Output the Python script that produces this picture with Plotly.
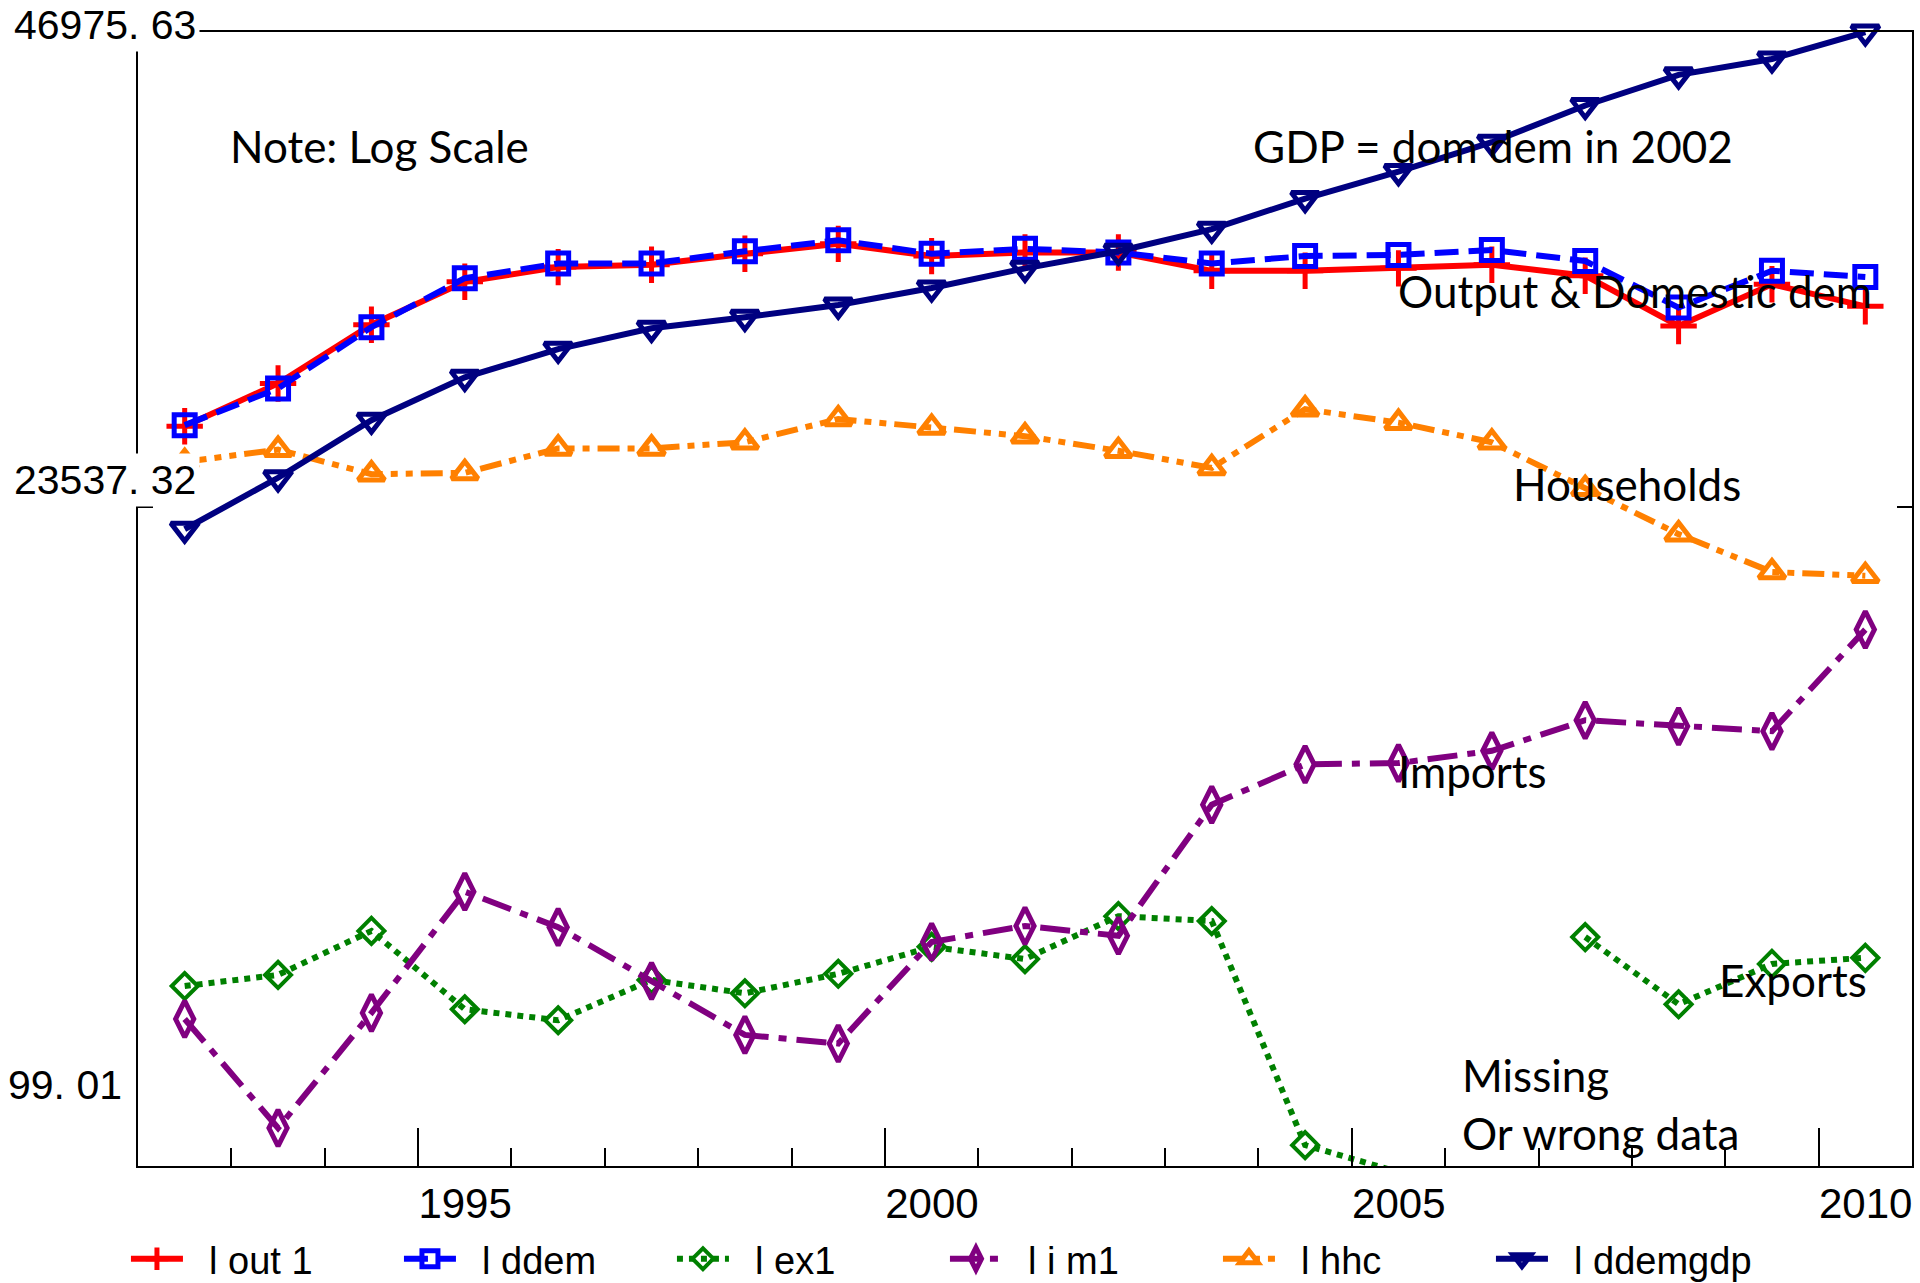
import plotly.graph_objects as go

# Annual observations, plotted at mid-year
years = list(range(1992, 2011))

# Series levels in chart index units (log-scale display)
lout1 = [65.23, 69.01, 74.19, 77.97, 79.27, 79.48, 80.45, 81.32, 80.24, 80.56,
         80.56, 78.94, 78.94, 79.16, 79.48, 78.51, 74.08, 77.75, 75.81]
lddem = [65.33, 68.57, 73.97, 78.29, 79.59, 79.59, 80.67, 81.64, 80.45, 80.88,
         80.56, 79.59, 80.24, 80.34, 80.78, 79.81, 75.70, 78.94, 78.40]
lex1 = [15.87, 16.85, 20.73, 13.82, 12.85, 16.41, 15.23, 16.95, 19.33, 18.25,
        22.03, 21.60, 1.84, -0.54, None, 20.19, 14.26, 17.82, 18.36]
lim1 = [12.96, 3.35, 13.50, 24.19, 21.06, 16.31, 11.56, 10.80, 19.76, 21.17,
        20.30, 31.86, 35.42, 35.53, 36.61, 39.31, 38.77, 38.34, 47.30]
lhhc = [62.10, 63.17, 61.01, 61.12, 63.28, 63.28, 63.82, 65.87, 65.12, 64.36,
        63.07, 61.56, 66.74, 65.55, 63.82, 59.72, 55.72, 52.38, 52.05]
lddemgdp = [56.16, 60.69, 65.77, 69.55, 72.03, 73.87, 74.84, 75.92, 77.43, 79.16,
            80.67, 82.61, 85.31, 87.69, 90.28, 93.52, 96.22, 97.62, 100.0]

major_years = [1995, 2000, 2005, 2010]
y_tick_text = ["46975. 63", "23537. 32", "99. 01"]
y_tick_label_pos = [1.0062, 0.605, 0.0714]   # fraction of plot height
y_tick_marks = [58.11]

# Text notes placed on the chart
note_text = ["Note: Log Scale", "GDP = dom dem in 2002", "Output & Domestic dem",
             "Households", "Imports", "Exports", "Missing", "Or wrong data"]
note_x = [1992.96, 2003.92, 2005.47, 2006.70, 2005.47, 2008.91, 2006.16, 2006.16]
note_y = [89.95, 89.95, 77.16, 60.14, 34.83, 16.40, 8.02, 2.91]

FONT_AXIS = "Liberation Sans, Arial, sans-serif"
FONT_NOTE = "Lato, Carlito, Calibri, sans-serif"
PAD = "\u00a0" * 2

x_mid = [y + 0.5 for y in years]

series = [
    ("l out 1", lout1, "#ff0000", "solid", "cross-thin-open", 26, 5),
    ("l ddem", lddem, "#0000ff", "24px,10px", "square-open", 21, 5),
    ("l ex1", lex1, "#008000", "dot", "diamond-open", 20, 4),
    ("l i m1", lim1, "#800080", "30px,10px,8px,10px", "diamond-tall-open", 26, 5),
    ("l hhc", lhhc, "#ff8000", "22px,8px,7px,8px,7px,8px", "triangle-up-open", 23, 5),
    ("l ddemgdp", lddemgdp, "#000080", "solid", "triangle-down-open", 24, 5),
]

fig = go.Figure()
for name, vals, color, dash, symbol, msize, mlw in series:
    fig.add_trace(go.Scatter(
        x=x_mid, y=vals, name=PAD + name, mode="lines+markers",
        line=dict(color=color, width=6, dash=dash),
        marker=dict(symbol=symbol, size=msize, color=color,
                    line=dict(color=color, width=mlw)),
        connectgaps=False, cliponaxis=False,
    ))

annotations = []
for t, x, y in zip(note_text, note_x, note_y):
    annotations.append(dict(
        text=t, x=x, y=y, xref="x", yref="y", xanchor="left", yanchor="middle",
        showarrow=False, font=dict(family=FONT_NOTE, size=44, color="black"),
    ))

# Value labels of the vertical scale, boxed in white over the frame
for t, y in zip(y_tick_text, y_tick_label_pos):
    boxed = t != "99. 01"
    annotations.append(dict(
        text=t, x=0.035 if boxed else -0.008, y=y, xref="paper", yref="paper",
        xanchor="right", yanchor="middle", showarrow=False,
        font=dict(family=FONT_AXIS, size=41, color="black"),
        bgcolor="white" if boxed else None, borderpad=3 if boxed else 1,
    ))

fig.update_layout(
    template="none",
    width=1920, height=1283,
    margin=dict(l=138, r=8, t=32, b=117, autoexpand=False),
    plot_bgcolor="white", paper_bgcolor="white",
    showlegend=True,
    legend=dict(
        orientation="h", x=0.0656, xref="container", y=0.0187, yref="container",
        xanchor="left", yanchor="middle",
        font=dict(family=FONT_AXIS, size=38, color="black"),
        itemwidth=52, entrywidth=206, entrywidthmode="pixels",
        bgcolor="rgba(0,0,0,0)", borderwidth=0,
    ),
    annotations=annotations,
)

fig.update_xaxes(
    range=[1992, 2011], showgrid=False, zeroline=False, automargin=False,
    showline=True, linecolor="black", linewidth=2, mirror=True,
    tickmode="array", tickvals=major_years, ticktext=[str(y) for y in major_years],
    ticks="inside", ticklen=38, tickwidth=2, tickcolor="black",
    ticklabelshift=47, ticklabelstandoff=0,
    tickfont=dict(family=FONT_AXIS, size=42, color="black"),
    minor=dict(tickmode="array", tickvals=years[1:], ticks="inside",
               ticklen=18, tickwidth=2, tickcolor="black", showgrid=False),
)

fig.update_yaxes(
    range=[0, 100], showgrid=False, zeroline=False, automargin=False,
    showline=True, linecolor="black", linewidth=2, mirror="ticks",
    tickmode="array", tickvals=y_tick_marks, showticklabels=False,
    ticks="inside", ticklen=15, tickwidth=2, tickcolor="black",
)

fig.write_html("out.html")
